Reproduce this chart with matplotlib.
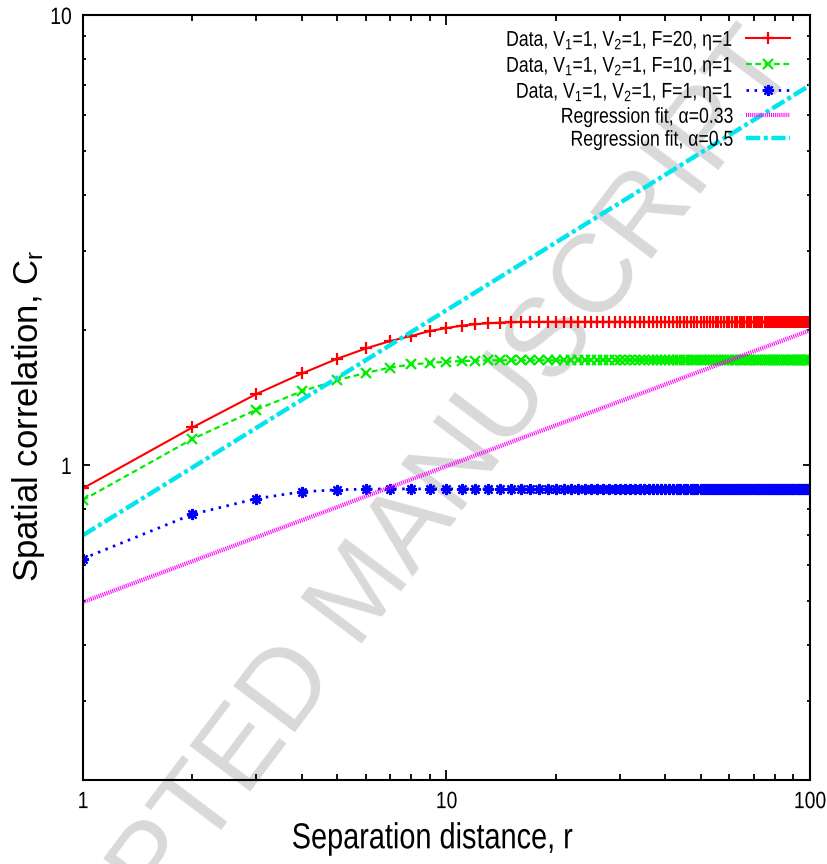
import numpy as np
import matplotlib
matplotlib.use("Agg")
import matplotlib.pyplot as plt
from matplotlib import font_manager
from matplotlib.patheffects import AbstractPathEffect
from matplotlib.transforms import Affine2D
from matplotlib.ticker import LogLocator, FixedLocator, FixedFormatter, NullFormatter

# Separation distance
r = np.arange(1, 101)

# Spatial correlation, V1=1, V2=1, eta=1
red_head = [0.89, 1.215, 1.442, 1.601, 1.726, 1.82, 1.89, 1.94, 1.99, 2.02,
            2.045, 2.06, 2.07, 2.077, 2.081, 2.084]
red_vals = red_head + [2.085] * (100 - len(red_head))      # F = 20

green_head = [0.838, 1.145, 1.331, 1.462, 1.547, 1.606, 1.65, 1.677, 1.69,
              1.70, 1.706, 1.71, 1.712]
green_vals = green_head + [1.713] * (100 - len(green_head))  # F = 10

blue_head = [0.621, 0.779, 0.844, 0.874, 0.883, 0.886]
blue_vals = blue_head + [0.887] * (100 - len(blue_head))    # F = 1

# Power-law regression fits C = a * r^b
fit033_a, fit033_b = 0.497, 0.302
fit05_a, fit05_b = 0.70, 0.50

labels = [
    "Data, V$_1$=1, V$_2$=1, F=20, η=1",
    "Data, V$_1$=1, V$_2$=1, F=10, η=1",
    "Data, V$_1$=1, V$_2$=1, F=1, η=1",
    "Regression fit, α=0.33",
    "Regression fit, α=0.5",
]

names = {f.name for f in font_manager.fontManager.ttflist}
sans = "Liberation Sans" if "Liberation Sans" in names else "DejaVu Sans"
plt.rcParams["font.family"] = [sans, "DejaVu Sans"]
plt.rcParams["mathtext.default"] = "regular"


class Condensed(AbstractPathEffect):
    """Squeeze glyph outlines horizontally, like a narrow typeface."""

    def __init__(self, factor=0.82, anchor="center"):
        super().__init__()
        self.factor = factor
        self.anchor = anchor

    def draw_path(self, renderer, gc, tpath, affine, rgbFace=None):
        ext = tpath.get_extents()
        if self.anchor == "right":
            x0 = ext.x1
        elif self.anchor == "left":
            x0 = ext.x0
        else:
            x0 = 0.5 * (ext.x0 + ext.x1)
        squeeze = Affine2D().translate(-x0, 0).scale(self.factor, 1).translate(x0, 0)
        renderer.draw_path(gc, tpath, squeeze + affine, rgbFace)


fig = plt.figure(figsize=(8.27, 8.64), dpi=100)
ax = fig.add_axes([0.1004, 0.0972, 0.879, 0.8849])

ax.plot(r, red_vals, color="#ff0000", lw=1.5, marker="+", ms=8, mew=1.6,
        label=labels[0])
ax.plot(r, green_vals, color="#00ee00", lw=1.6, ls=(0, (2.6, 1.6)), marker="x",
        ms=7, mew=1.6, label=labels[1])
ax.plot(r, blue_vals, color="#0000ff", lw=2.0, ls=(0, (0.9, 2.0)),
        marker=(8, 2, 0), ms=8, mew=1.6, label=labels[2])
ax.plot(r, fit033_a * r ** fit033_b, color="#ff00ff", lw=3.0,
        ls=(0, (0.25, 0.25)), label=labels[3])
ax.plot(r, fit05_a * r ** fit05_b, color="#00e6ee", lw=3.2,
        ls=(0, (3.2, 0.8, 0.9, 0.8)), label=labels[4])

ax.set_xscale("log")
ax.set_yscale("log")
ax.set_xlim(1, 100)
ax.set_ylim(0.2, 10)

for axis in (ax.xaxis, ax.yaxis):
    axis.set_minor_locator(LogLocator(base=10, subs=np.arange(2, 10)))
    axis.set_minor_formatter(NullFormatter())
ax.xaxis.set_major_locator(FixedLocator([1, 10, 100]))
ax.xaxis.set_major_formatter(FixedFormatter(["1", "10", "100"]))
ax.yaxis.set_major_locator(FixedLocator([1, 10]))
ax.yaxis.set_major_formatter(FixedFormatter(["1", "10"]))

ax.tick_params(which="both", direction="in", top=True, right=True,
               width=1.3, labelsize=17, pad=8)
ax.tick_params(axis="x", which="major", length=7.5)
ax.tick_params(axis="x", which="minor", length=4)
ax.tick_params(axis="y", which="major", length=5)
ax.tick_params(axis="y", which="minor", length=2.5)
for sp in ax.spines.values():
    sp.set_linewidth(1.5)

xl = ax.set_xlabel("Separation distance, r", fontsize=26)
xl.set_path_effects([Condensed(0.8, "center")])
ax.xaxis.set_label_coords(0.48, -0.054)
ax.set_ylabel("Spatial correlation, C$_r$", fontsize=25)
ax.yaxis.set_label_coords(-0.0495, 0.477)

leg = ax.legend(loc="upper right", bbox_to_anchor=(0.9725, 0.9824),
                frameon=False, markerfirst=False, fontsize=15.5,
                handlelength=2.05, handletextpad=0.6, labelspacing=0.09,
                borderaxespad=0.0, borderpad=0.0)
for t in leg.get_texts():
    t.set_path_effects([Condensed(0.82, "right")])

ax.text(0.44, 0.3125, "ACCEPTED MANUSCRIPT", transform=fig.transFigure,
        rotation=53, color="#d9d9d9", fontsize=80, ha="center", va="center",
        zorder=0.5, clip_on=False)

fig.canvas.draw()
for t in ax.get_xticklabels():
    t.set_path_effects([Condensed(0.82, "center")])
for t in ax.get_yticklabels():
    t.set_path_effects([Condensed(0.82, "right")])

fig.savefig("out.png", dpi=100)
